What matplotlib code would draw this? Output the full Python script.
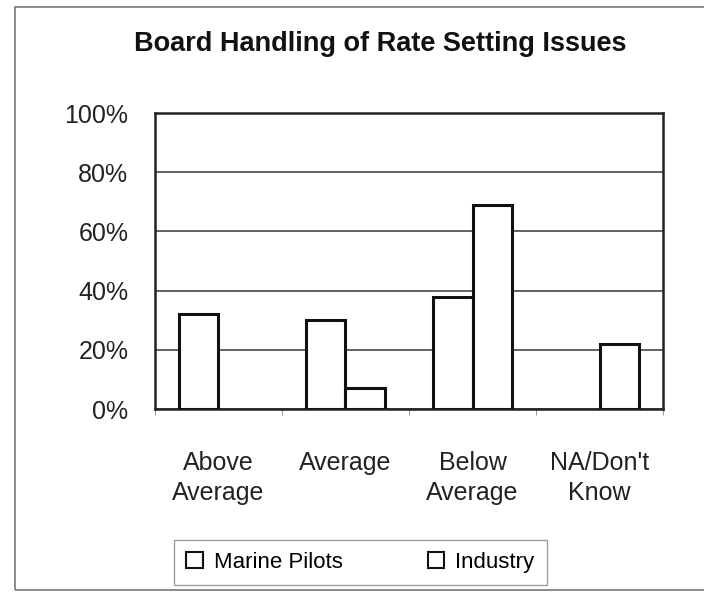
import matplotlib.pyplot as plt
import numpy as np
from matplotlib.patches import Rectangle, Patch

plt.rcParams['font.family'] = ['Liberation Sans', 'DejaVu Sans']

categories = ["Above\nAverage", "Average", "Below\nAverage", "NA/Don't\nKnow"]
marine_pilots = [32, 30, 38, 0]
industry = [0, 7, 69, 22]
series_names = ["Marine Pilots", "Industry"]

fig = plt.figure(figsize=(7.04, 5.92), dpi=100)
ax = fig.add_axes([0.220, 0.309, 0.722, 0.500])

x = np.arange(len(categories))
w = 0.31
b1 = ax.bar(x - w / 2, marine_pilots, w, color="white", edgecolor="#111111", linewidth=2.2, zorder=3)
b2 = ax.bar(x + w / 2, industry, w, color="white", edgecolor="#111111", linewidth=2.2, zorder=3)
# hide zero-height bars
for bars, vals in ((b1, marine_pilots), (b2, industry)):
    for r, v in zip(bars, vals):
        if v == 0:
            r.set_visible(False)

ax.set_xlim(-0.5, len(categories) - 0.5)
ax.set_ylim(0, 100)
ax.set_yticks(range(0, 101, 20))
ax.set_yticklabels([f"{v}%" for v in range(0, 101, 20)], fontsize=18, color="#222222")
ax.yaxis.grid(True, color="#555555", linewidth=1.3, zorder=0)
ax.tick_params(axis="y", length=0, pad=19)

ax.set_xticks(x)
ax.set_xticklabels(categories, fontsize=18, color="#222222", linespacing=1.35)
ax.tick_params(axis="x", length=0, pad=30)
# small minor ticks between categories
ax.set_xticks(np.arange(-0.5, len(categories), 1), minor=True)
ax.tick_params(axis="x", which="minor", length=4, color="#888888", direction="out")

for s in ax.spines.values():
    s.set_linewidth(1.8)
    s.set_color("#222222")

fig.text(0.54, 0.925, "Board Handling of Rate Setting Issues", ha="center", va="center",
         fontsize=19.5, fontweight="bold", color="#111111")

handles = [Patch(facecolor="white", edgecolor="#111111", linewidth=1.5) for _ in series_names]
leg = fig.legend(handles, series_names, loc="center", bbox_to_anchor=(0.512, 0.05),
                 ncol=2, fontsize=16, frameon=True, fancybox=False, edgecolor="#888888",
                 handlelength=0.75, handleheight=0.75, handletextpad=0.5,
                 columnspacing=3.8, borderpad=0.55)
leg.get_frame().set_linewidth(1.0)

# outer scanned frame
fig.patches.append(Rectangle((0.021, 0.003), 0.99, 0.985, transform=fig.transFigure,
                             fill=False, edgecolor="#777777", linewidth=1.2))

fig.savefig("out.png", dpi=100)
